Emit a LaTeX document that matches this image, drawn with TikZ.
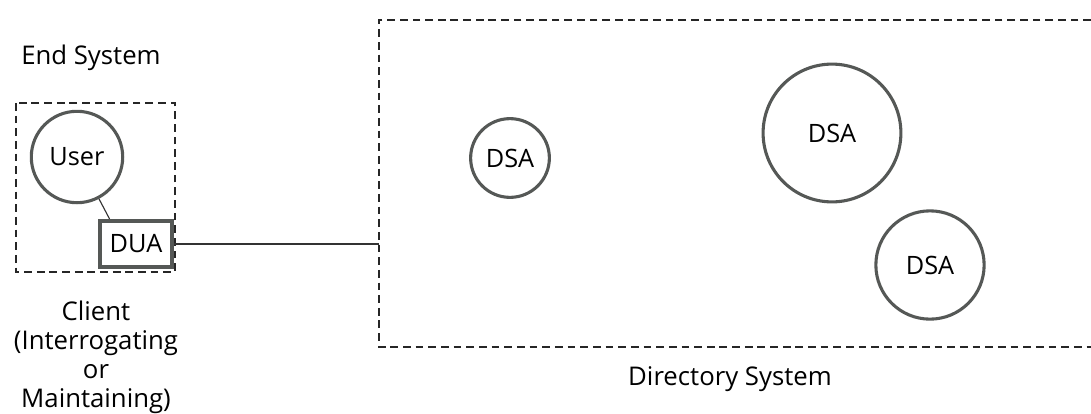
\documentclass[tikz,border=0pt]{standalone}
\usepackage{fontspec}
\setmainfont{Open Sans}
\usetikzlibrary{positioning}
\definecolor{inkgray}{RGB}{85,88,86}
\tikzstyle{agent}=[circle,draw=inkgray,line width=2.2pt,inner sep=0pt,font=\fontsize{18}{20}\selectfont]
\tikzstyle{dua}=[rectangle,draw=inkgray,line width=2.6pt,minimum width=51pt,minimum height=33pt,inner sep=1pt,font=\fontsize{18}{20}\selectfont]
\tikzstyle{frame}=[draw=black!85,line width=1pt,dash pattern=on 5.5pt off 3.5pt]
\tikzstyle{link}=[draw=black!80,line width=0.8pt]
\tikzstyle{caption}=[font=\fontsize{18.3}{20.6}\selectfont,align=center,inner sep=0pt]

\begin{document}
\begin{tikzpicture}[x=0.025cm,y=-0.025cm]
    \useasboundingbox (0,0) rectangle (1091,414);

    % end system side
    \draw[frame] (16,103) rectangle (175,272);
    \node[agent,minimum size=65pt] (user) at (77,157) {User};
    \node[dua] (DUA) at (136,244) {DUA};
    \path[link] (user) -- ([xshift=8pt]DUA.north west);

    % directory system frame, open to the right
    \draw[frame] (1091,20) -| (379,347) -- (1091,347);
    \coordinate (dirleft) at (379,244);

    \foreach \pos/\name/\size in {{(510,158)/dsaA/56pt}, {(832,133)/dsaB/98pt}, {(930,265)/dsaC/77pt}}
        \node[agent,minimum size=\size] (\name) at \pos {DSA};

    \path[link] (DUA) -- (dirleft);

    % captions
    \node[caption] (endsys) at (91,58) {End System};
    \node[caption] (client) at (96,357) {Client\\(Interrogating\\or\\Maintaining)};
    \node[caption] (dirsys) at (730,379) {Directory System};
\end{tikzpicture}
\end{document}
